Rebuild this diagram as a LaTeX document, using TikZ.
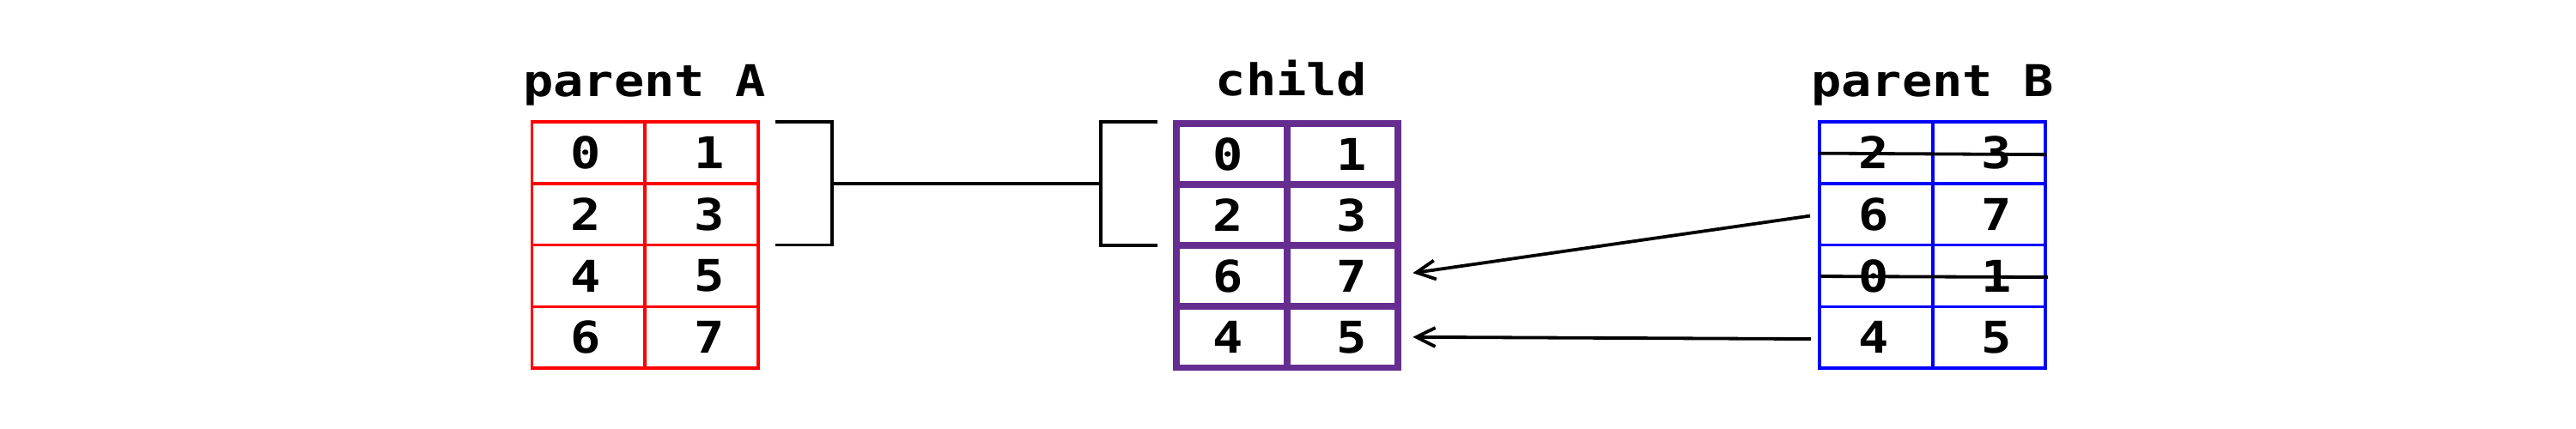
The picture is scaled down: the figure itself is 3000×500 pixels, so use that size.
\documentclass[tikz,border=0pt]{standalone}
\usepackage{fontspec}
\newfontfamily\monofnt[FakeStretch=1.15]{DejaVu Sans Mono}
\usetikzlibrary{arrows.meta,calc}
\definecolor{pA}{RGB}{255,0,0}
\definecolor{pB}{RGB}{0,0,255}
\definecolor{ch}{RGB}{102,45,145}
\begin{document}
\begin{tikzpicture}[x=1pt,y=-1pt,
  cellbase/.style={shape=rectangle, inner sep=0pt, outer sep=0pt},
  cellA/.style={cellbase, draw=pA, line width=3.8pt, minimum width=131.6pt, minimum height=71.9pt},
  cellB/.style={cellbase, draw=pB, line width=3.8pt, minimum width=131.65pt, minimum height=71.9pt},
  cellC/.style={cellbase, draw=ch, line width=7.8pt, minimum width=129.3pt, minimum height=71.1pt},
  num/.style={font=\monofnt\bfseries\fontsize{51}{51}\selectfont, inner sep=0pt, text=black},
  ttl/.style={num, anchor=base},
  conn/.style={line width=3.8pt, black},
  arr/.style={line width=3.8pt, black, -{Straight Barb[length=22pt,width=22pt,line width=3.8pt]}}]
\useasboundingbox (0,0) rectangle (3000,500);
% cells
\foreach \r in {1,...,4}{
  \foreach \c in {1,2}{
    \node[cellA] (a\r\c) at ({619.5+(\c-0.5)*131.6},{141.7+(\r-0.5)*71.9}) {};
    \node[cellC] (c\r\c) at ({1369.7+(\c-0.5)*129.3},{144+(\r-0.5)*71.1}) {};
    \node[cellB] (b\r\c) at ({2119+(\c-0.5)*131.65},{141.7+(\r-0.5)*71.9}) {};
  }
}
% digits
\foreach \r/\p/\q in {1/0/1,2/2/3,3/4/5,4/6/7}{
  \node[num] (an\r1) at ([xshift=-3pt]a\r1.center) {\p};
  \node[num] (an\r2) at ([xshift=9pt]a\r2.center) {\q};
}
\foreach \r/\p/\q in {1/0/1,2/2/3,3/6/7,4/4/5}{
  \node[num] (cn\r1) at ([xshift=-4pt]c\r1.center) {\p};
  \node[num] (cn\r2) at ([xshift=10pt]c\r2.center) {\q};
}
\foreach \r/\p/\q in {1/2/3,2/6/7,3/0/1,4/4/5}{
  \node[num] (bn\r1) at ([xshift=-3pt]b\r1.center) {\p};
  \node[num] (bn\r2) at ([xshift=9pt]b\r2.center) {\q};
}
% titles
\node[ttl] (tA) at (750.5,113) {parent A};
\node[ttl] (tC) at (1504,112) {child};
\node[ttl] (tB) at (2250.5,113) {parent B};
% brackets
\coordinate (jA) at ($(a12.south east)+(86,0)$);
\coordinate (jC) at ($(c11.west |- jA)+(-88,0)$);
\draw[conn] ($(a12.north east)+(20,0)$) -- ++(66,0) |- ($(a22.south east)+(20,0)$);
\draw[conn] (jA) -- (jC);
\draw[conn] ($(jC)+(66,-71.6)$) -- ++(-66,0) -- ++(0,144) -- ++(66,0);
% arrows
\draw[arr] ($(b21.west)+(-11,2)$) -- ($(c32.east)+(17,-3.5)$);
\draw[arr] ($(b41.west)+(-10,1.7)$) -- ($(c42.east)+(17,0)$);
% strike-throughs
\draw[conn] ($(b11.west)+(-1,1)$) -- ($(b12.east)+(1,2.5)$);
\draw[conn] ($(b31.west)+(1,0.6)$) -- ($(b32.east)+(2.7,1.6)$);
\end{tikzpicture}
\end{document}
